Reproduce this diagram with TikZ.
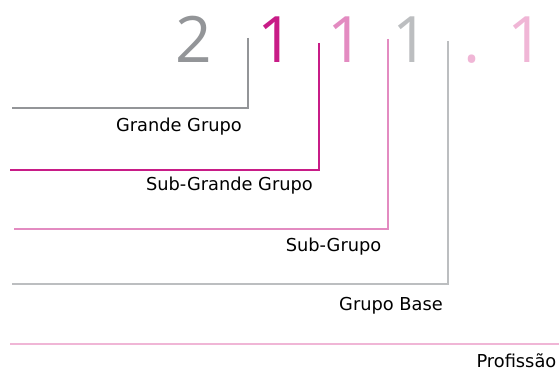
\documentclass[tikz,border=0pt]{standalone}
\usepackage{fontspec}
\setmainfont{DejaVu Sans}
\newfontfamily\digitfont{Open Sans}
\definecolor{codegray}{HTML}{939598}
\definecolor{codemagenta}{HTML}{C81C87}
\definecolor{codepink}{HTML}{E38BC1}
\definecolor{codesilver}{HTML}{BCBEC0}
\definecolor{codeblush}{HTML}{F0B6D6}
\tikzset{
  digit/.style={anchor=base, inner sep=0pt, font=\digitfont\fontsize{64}{66}\selectfont},
  level/.style={anchor=base east, inner sep=0pt, font=\fontsize{17.8}{20}\selectfont},
  bar/.style={line width=2pt}
}
\begin{document}
\begin{tikzpicture}[x=1pt, y=-1pt]
\useasboundingbox (0,0) rectangle (559,371);

% code digits
\node [digit, codegray] (dgrande) at (194,63) {2};
\node [digit, codemagenta] (dsubgrande) at (276,63) {1};
\node [digit, codepink] (dsub) at (346,63) {1};
\node [digit, codesilver] (dbase) at (411,63) {1};
\node [digit, codeblush] (ddot) at (472,63) {.};
\node [digit, codeblush] (dprof) at (526,63) {1};

% brackets
\coordinate (grandetop) at (248,38);
\coordinate (grandeend) at (12,108);
\draw [bar, codegray] (grandetop) |- (grandeend);
\coordinate (subgrandetop) at (318.5,43);
\coordinate (subgrandeend) at (10,170);
\draw [bar, codemagenta] (subgrandetop) |- (subgrandeend);
\coordinate (subtop) at (388,39);
\coordinate (subend) at (14,229);
\draw [bar, codepink] (subtop) |- (subend);
\coordinate (basetop) at (448,41);
\coordinate (baseend) at (12,283.5);
\draw [bar, codesilver] (basetop) |- (baseend);
\coordinate (profstart) at (10,344);
\coordinate (profend) at (559,344);
\draw [bar, codeblush] (profstart) -- (profend);

% labels
\node [level] (lgrande) at (242,132) {Grande Grupo};
\node [level] (lsubgrande) at (313,190.5) {Sub-Grande Grupo};
\node [level] (lsub) at (381.5,251.5) {Sub-Grupo};
\node [level] (lbase) at (443,310) {Grupo Base};
\node [level] (lprof) at (556.5,367.5) {Profissão};
\end{tikzpicture}
\end{document}
